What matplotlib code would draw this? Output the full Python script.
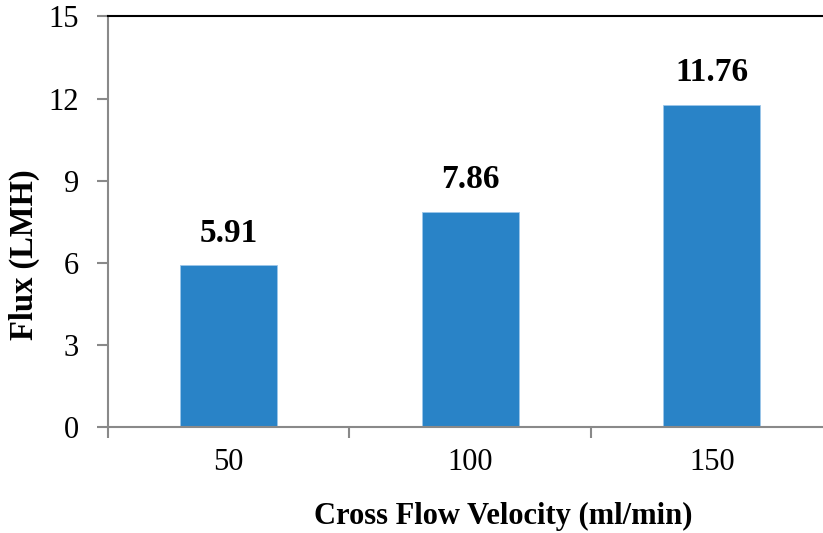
import matplotlib
matplotlib.use("Agg")
import matplotlib.pyplot as plt
from matplotlib.ticker import FixedLocator

plt.rcParams["font.family"] = ["Liberation Serif", "DejaVu Serif"]

# data
velocities = ["50", "100", "150"]
flux = [5.91, 7.86, 11.76]
y_ticks = [0, 3, 6, 9, 12, 15]

BAR_COLOR = "#2983C7"
AXIS_GRAY = "#898989"

fig = plt.figure(figsize=(8.23, 5.33), dpi=100)
ax = fig.add_axes([0.1312, 0.1989, 0.8803, 0.7702])

x = list(range(len(velocities)))
ax.bar(x, flux, width=0.4, color=BAR_COLOR, edgecolor="#9cc6ea", linewidth=0.6, zorder=2)

for xi, v in zip(x, flux):
    ax.annotate(f"{v:.2f}", (xi, v), xytext=(0, 12), textcoords="offset points",
                ha="center", va="bottom", fontsize=24, fontweight="bold")

ax.set_xlim(-0.5, len(velocities) - 0.5)
ax.set_ylim(0, 15)
ax.set_yticks(y_ticks)
ax.set_yticklabels([str(t) for t in y_ticks], fontsize=22)
ax.set_xticks(x)
ax.set_xticklabels(velocities, fontsize=22)
ax.xaxis.set_minor_locator(FixedLocator([i - 0.5 for i in range(len(velocities) + 1)]))

ax.tick_params(axis="x", which="major", length=0, pad=15)
ax.tick_params(axis="x", which="minor", length=8, width=1.5, color=AXIS_GRAY, direction="out")
ax.tick_params(axis="y", length=8, width=1.5, color=AXIS_GRAY, direction="out", pad=13)

for side in ["left", "bottom"]:
    ax.spines[side].set_color(AXIS_GRAY)
    ax.spines[side].set_linewidth(1.5)
ax.spines["top"].set_color("black")
ax.spines["top"].set_linewidth(1.5)
ax.spines["right"].set_visible(False)

ax.set_xlabel("Cross Flow Velocity (ml/min)", fontsize=22, fontweight="bold", labelpad=18)
ax.set_ylabel("Flux (LMH)", fontsize=23.5, fontweight="bold", labelpad=6)
ax.xaxis.label.set_x(0.545)
ax.yaxis.label.set_y(0.419)

fig.savefig("out.png", dpi=100)
